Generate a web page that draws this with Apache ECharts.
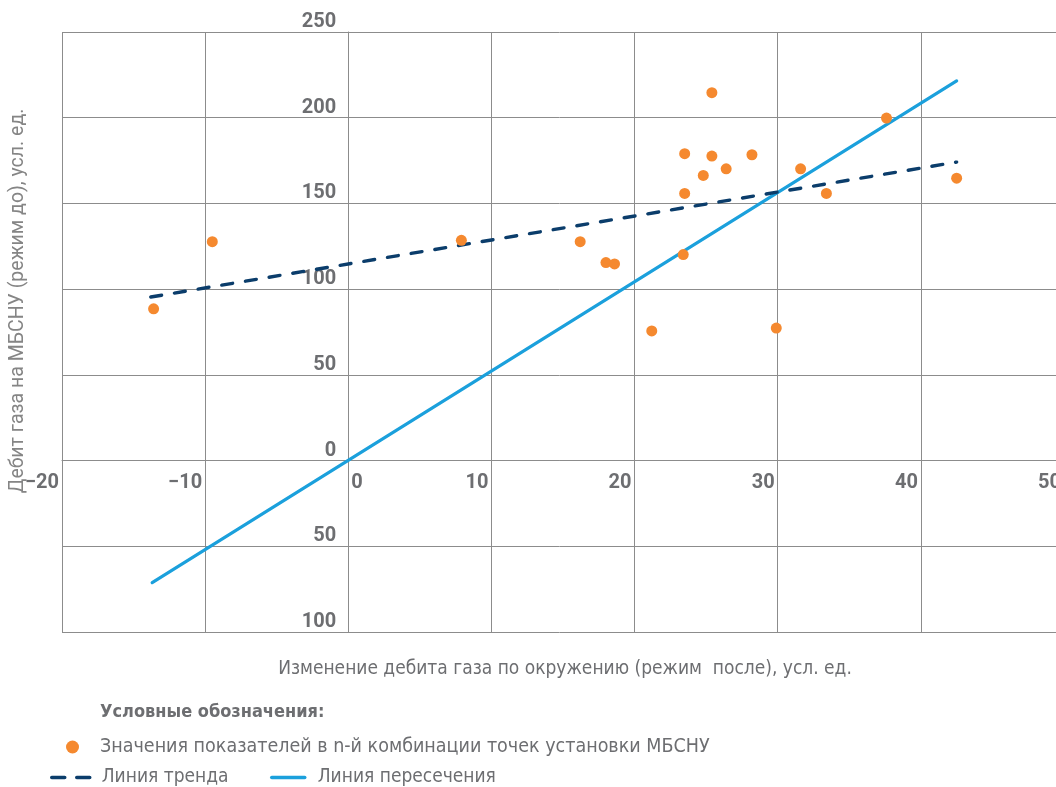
<!DOCTYPE html>
<html lang="ru">
<head>
<meta charset="utf-8">
<title>Дебит газа на МБСНУ</title>
<script src="https://cdn.jsdelivr.net/npm/echarts@6/dist/echarts.min.js"></script>
<style>
  html, body { margin: 0; padding: 0; background: #fff; }
  #chart { width: 1056px; height: 787px; }
</style>
</head>
<body>
<div id="chart"></div>
<script>
// Axis scales and tick labels
const X_MIN = -20, X_MAX = 50, X_STEP = 10;
const Y_MIN = -100, Y_MAX = 250, Y_STEP = 50;
const xTickLabels = ['−20', '−10', '0', '10', '20', '30', '40', '50'];
const yTickLabels = ['100', '50', '0', '50', '100', '150', '200', '250'];

// Measured combinations: change of surrounding gas rate (x) vs gas rate at МБСНУ (y)
const pointsX = [-13.6, -9.5, 7.9, 16.2, 18.0, 18.6, 21.2, 23.4, 23.5, 23.5, 24.8, 25.4, 25.4, 26.4, 28.2, 29.9, 31.6, 33.4, 37.6, 42.5];
const pointsY = [88.5, 127.7, 128.5, 127.7, 115.5, 114.7, 75.6, 120.2, 179.0, 155.8, 166.3, 214.6, 177.6, 170.2, 178.4, 77.3, 170.2, 155.8, 199.8, 164.7];

// Trend line end points
const trendX = [-13.8, 42.5];
const trendY = [95.4, 174.1];

// Intersection line end points
const crossX = [-13.7, 42.5];
const crossY = [-71.2, 221.5];

const names = {
  points: 'Значения показателей в n-й комбинации точек установки МБСНУ',
  trend: 'Линия тренда',
  cross: 'Линия пересечения'
};
const xTitle = 'Изменение дебита газа по окружению (режим  после), усл. ед.';
const yTitle = 'Дебит газа на МБСНУ (режим до), усл. ед.';
const legendTitle = 'Условные обозначения:';

const zip = (xs, ys) => xs.map((x, i) => [x, ys[i]]);

const TEXT_FONT = "'DejaVu Sans Condensed', 'Liberation Sans Narrow', sans-serif";
const TICK_FONT = "Roboto, 'Liberation Sans', sans-serif";
const TEXT = '#6d6e71';
const GRID = '#8c8c8c';
const GRID_BOX = { left: 62, right: -8, top: 32, bottom: 155 };

const chart = echarts.init(document.getElementById('chart'), null, { renderer: 'canvas' });

const legendText = (pad, size) => ({
  color: TEXT, fontFamily: TEXT_FONT, fontSize: size, padding: [0, 0, 0, pad]
});
// line samples in the legend show only the stroke
const noSymbol = { color: 'rgba(0,0,0,0)', borderWidth: 0, opacity: 0 };

const tickLabel = {
  show: true, showMinLabel: true, showMaxLabel: true, hideOverlap: false,
  color: TEXT, fontFamily: TICK_FONT, fontSize: 20, fontWeight: 'bold', margin: 12
};

chart.setOption({
  animation: false,
  backgroundColor: '#ffffff',
  grid: Object.assign({ outerBoundsMode: 'none', containLabel: false }, GRID_BOX),
  title: [
    { text: xTitle, left: 565, top: 660, textAlign: 'center', padding: 0,
      textStyle: { color: TEXT, fontFamily: TEXT_FONT, fontSize: 19, fontWeight: 'normal' } },
    { text: legendTitle, left: 100, top: 703, padding: 0,
      textStyle: { color: TEXT, fontFamily: TEXT_FONT, fontSize: 18, fontWeight: 'bold' } }
  ],
  legend: [
    { data: [names.points], left: 66, top: 737, padding: 0, itemWidth: 13, itemHeight: 13, icon: 'circle',
      textStyle: legendText(16, 19.5) },
    { data: [names.trend], left: 50, top: 768, padding: 0, itemWidth: 38, itemHeight: 14,
      itemStyle: noSymbol, lineStyle: { type: [13, 12], width: 3.5 }, textStyle: legendText(7, 19) },
    { data: [names.cross], left: 270, top: 768, padding: 0, itemWidth: 33, itemHeight: 14,
      itemStyle: noSymbol, lineStyle: { width: 3.5 }, textStyle: legendText(8, 19) }
  ],
  xAxis: {
    type: 'value', min: X_MIN, max: X_MAX, interval: X_STEP, position: 'bottom',
    axisLine: { show: true, onZero: false, lineStyle: { color: GRID, width: 1 } },
    axisTick: { show: false },
    splitLine: { show: true, lineStyle: { color: GRID, width: 1 } },
    axisLabel: Object.assign({}, tickLabel, {
      align: 'right', verticalAlign: 'top', padding: [0, 3, 0, 0],
      formatter: (v) => v === 0 ? '' : xTickLabels[Math.round((v - X_MIN) / X_STEP)]
    })
  },
  yAxis: {
    type: 'value', min: Y_MIN, max: Y_MAX, interval: Y_STEP, position: 'left',
    axisLine: { show: true, onZero: false, lineStyle: { color: GRID, width: 1 } },
    axisTick: { show: false },
    splitLine: { show: true, lineStyle: { color: GRID, width: 1 } },
    axisLabel: Object.assign({}, tickLabel, {
      align: 'right', verticalAlign: 'bottom',
      formatter: (v) => yTickLabels[Math.round((v - Y_MIN) / Y_STEP)]
    })
  },
  series: [
    {
      name: names.cross, type: 'line', data: zip(crossX, crossY),
      symbol: 'none', z: 3,
      lineStyle: { color: '#1ba0dc', width: 3.2, cap: 'round' },
      itemStyle: { color: '#1ba0dc' }
    },
    {
      name: names.trend, type: 'line', data: zip(trendX, trendY),
      symbol: 'none', z: 4,
      lineStyle: { color: '#0b3d6b', width: 3.4, type: [11, 13], cap: 'round' },
      itemStyle: { color: '#0b3d6b' }
    },
    {
      name: names.points, type: 'scatter', data: zip(pointsX, pointsY),
      symbol: 'circle', symbolSize: 11, z: 5,
      itemStyle: { color: '#f5892f', opacity: 1 }
    }
  ]
});

// Both axes cross at the origin: shift them there from the grid edges,
// using the pixel position of (0, 0) on the grid.
const origin = chart.convertToPixel({ gridIndex: 0 }, [0, 0]);
const corner = chart.convertToPixel({ gridIndex: 0 }, [X_MIN, Y_MIN]);
chart.setOption({
  xAxis: { offset: origin[1] - corner[1] },
  yAxis: { offset: corner[0] - origin[0] },
  graphic: [
    // zero of the horizontal axis sits to the right of its grid line
    { type: 'text', x: origin[0] + 3, y: origin[1] + 12, silent: true,
      style: { text: xTickLabels[Math.round((0 - X_MIN) / X_STEP)], fill: TEXT,
               font: "bold 20px " + TICK_FONT, align: 'left', verticalAlign: 'top' } },
    // vertical axis title along the left edge
    { type: 'text', x: 18, y: 301, rotation: Math.PI / 2, silent: true,
      style: { text: yTitle, fill: '#858585', font: "19.5px Roboto, 'Open Sans', sans-serif",
               align: 'center', verticalAlign: 'middle' } }
  ]
});
</script>
</body>
</html>
